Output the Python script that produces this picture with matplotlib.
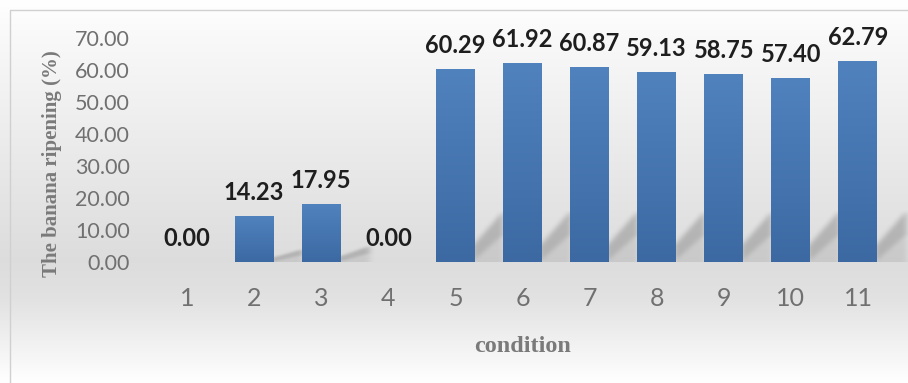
import numpy as np
import matplotlib
matplotlib.use("Agg")
import matplotlib.pyplot as plt
from matplotlib.lines import Line2D

# data
conditions = ["1", "2", "3", "4", "5", "6", "7", "8", "9", "10", "11"]
ripening = [0.00, 14.23, 17.95, 0.00, 60.29, 61.92, 60.87, 59.13, 58.75, 57.40, 62.79]
y_ticks = [0, 10, 20, 30, 40, 50, 60, 70]

W, H = 908, 383
fig = plt.figure(figsize=(W / 100, H / 100), dpi=100)

# background gradient (white -> light grey -> white)
bg = fig.add_axes([0, 0, 1, 1], zorder=-10)
rows = np.linspace(0, 1, 400)
shade = np.interp(rows, [0.0, 0.1, 0.68, 0.78, 1.0], [1.0, 0.975, 0.865, 0.885, 1.0])
img = np.repeat(np.dstack([shade] * 3).reshape(400, 1, 3), 2, axis=1)
bg.imshow(img, aspect="auto", extent=[0, 1, 0, 1], origin="upper")
bg.set_axis_off()
fig.lines.append(Line2D([10 / W, 10 / W, 1], [0, 1 - 10 / H, 1 - 10 / H],
                        transform=fig.transFigure, color="#d0d0d0", linewidth=1))

ax = fig.add_axes([153.5 / W, 1 - 262 / H, 738 / W, 224 / H])
ax.patch.set_alpha(0)

x = np.arange(len(conditions))
bw = 0.58
xlo, xhi, ylo, yhi = -0.5, len(conditions) - 0.5, 0, 70


def box_blur(a, r):
    for axis in (0, 1):
        c = np.cumsum(np.pad(a, [(r + 1, r) if i == axis else (0, 0) for i in range(2)],
                             mode="edge"), axis=axis)
        a = (np.take(c, range(2 * r + 1, c.shape[axis]), axis=axis)
             - np.take(c, range(0, c.shape[axis] - 2 * r - 1), axis=axis)) / (2 * r + 1)
    return a


# soft diagonal shadows cast to the right of each bar
nx, ny = 760, 240
gx = xlo + (np.arange(nx) + 0.5) / nx * (xhi + 0.3 - xlo)
gy = ylo + (np.arange(ny) + 0.5) / ny * 24
GX, GY = np.meshgrid(gx, gy)
mask = np.zeros_like(GX)
for xi, v in zip(x, ripening):
    if v <= 0:
        continue
    xr = xi + bw / 2
    h = min(16, v * 0.28)
    t = (GX - (xr - 0.05)) / 0.47
    inside = (t >= 0) & (t <= 1)
    upper = h * (0.3 + 0.7 * t)
    band_lo = h * (0.0 + 0.55 * t)
    m = np.where(inside & (GY <= upper), 0.45, 0.0)
    m = np.where(inside & (GY <= upper) & (GY >= band_lo), 1.0, m)
    mask = np.maximum(mask, m)
mask = box_blur(box_blur(mask, 3), 3)
shadow = np.zeros((ny, nx, 4))
shadow[..., :3] = 0.35
shadow[..., 3] = mask * 0.32
ax.imshow(shadow, extent=[xlo, xhi + 0.3, 0, 24], origin="lower", aspect="auto",
          zorder=1, clip_on=False)

top_col = np.array([0x50, 0x82, 0xbe]) / 255
bot_col = np.array([0x3c, 0x69, 0xa2]) / 255
grad = np.linspace(0, 1, 100)[:, None, None]
grad_img = top_col * (1 - grad) + bot_col * grad

for xi, v in zip(x, ripening):
    if v > 0:
        ax.imshow(grad_img, extent=[xi - bw / 2, xi + bw / 2, 0, v], aspect="auto",
                  origin="upper", zorder=2)
    ax.annotate(f"{v:.2f}", (xi, v), xytext=(0, 9), textcoords="offset points",
                ha="center", va="bottom", fontsize=17, fontweight="bold",
                color="#1e1e1e", family="Lato")

ax.set_xlim(xlo, xhi)
ax.set_ylim(ylo, yhi)
ax.set_xticks(x)
ax.set_xticklabels(conditions, fontsize=18, color="#707070", family="Lato")
ax.set_yticks(y_ticks)
ax.set_yticklabels([f"{t:.2f}" for t in y_ticks], fontsize=15.5, color="#707070", family="Lato")
ax.tick_params(length=0)
ax.tick_params(axis="x", pad=18)
ax.tick_params(axis="y", pad=17)
for s in ax.spines.values():
    s.set_visible(False)

fig.text(52 / W, 1 - 164 / H, "The banana ripening (%)", rotation=90, ha="center", va="center",
         fontsize=15, fontweight="bold", color="#7a7a7a", family="Liberation Serif")
fig.text(523 / W, 1 - 346 / H, "condition", ha="center", va="center",
         fontsize=17.5, fontweight="bold", color="#7a7a7a", family="Liberation Serif")

fig.savefig("out.png", dpi=100)
